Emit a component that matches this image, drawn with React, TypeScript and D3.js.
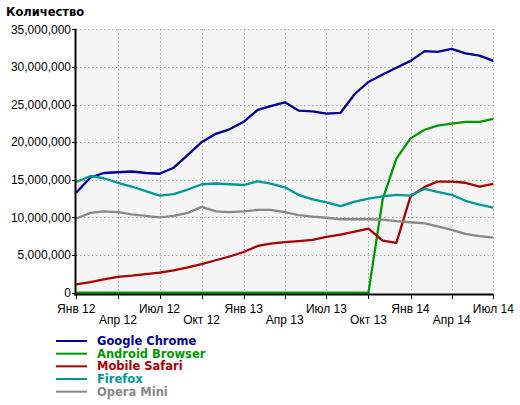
import React from "react";
import * as d3 from "d3";

const months: string[] = [
  "2012-01","2012-02","2012-03","2012-04","2012-05","2012-06","2012-07","2012-08","2012-09","2012-10","2012-11","2012-12",
  "2013-01","2013-02","2013-03","2013-04","2013-05","2013-06","2013-07","2013-08","2013-09","2013-10","2013-11","2013-12",
  "2014-01","2014-02","2014-03","2014-04","2014-05","2014-06","2014-07",
];

// values in millions
const chrome = [13.3,15.3,15.9,16.0,16.1,15.9,15.8,16.6,18.3,20.0,21.1,21.7,22.7,24.3,24.8,25.3,24.2,24.1,23.8,23.9,26.4,28.0,29.0,29.9,30.8,32.1,32.0,32.4,31.8,31.5,30.8];
const android = [0,0,0,0,0,0,0,0,0,0,0,0,0,0,0,0,0,0,0,0,0,0,12.4,17.8,20.5,21.65,22.2,22.45,22.7,22.7,23.1];
const safari = [1.1,1.4,1.75,2.1,2.25,2.45,2.65,2.95,3.35,3.8,4.3,4.8,5.4,6.2,6.5,6.7,6.85,7.0,7.4,7.7,8.1,8.5,6.9,6.6,12.8,14.05,14.75,14.75,14.6,14.1,14.45];
const firefox = [14.7,15.5,15.2,14.6,14.1,13.5,12.9,13.1,13.7,14.4,14.5,14.4,14.3,14.8,14.5,14.0,13.0,12.4,12.0,11.5,12.1,12.5,12.8,13.0,12.9,13.8,13.4,13.0,12.2,11.7,11.3];
const opera = [9.85,10.6,10.8,10.7,10.4,10.2,10.0,10.2,10.6,11.4,10.8,10.7,10.8,11.0,11.0,10.7,10.3,10.1,9.95,9.75,9.75,9.75,9.7,9.5,9.35,9.2,8.8,8.35,7.8,7.5,7.3];

const seriesNames = ["Google Chrome","Android Browser","Mobile Safari","Firefox","Opera Mini"];
const seriesColors = ["#000099","#009900","#aa0000","#009999","#888888"];
const seriesValues = [chrome, android, safari, firefox, opera];

const yTicks = [0,5,10,15,20,25,30,35];
const xTickDates = ["2012-01","2012-04","2012-07","2012-10","2013-01","2013-04","2013-07","2013-10","2014-01","2014-04","2014-07"];
const xTickLabels = ["Янв 12","Апр 12","Июл 12","Окт 12","Янв 13","Апр 13","Июл 13","Окт 13","Янв 14","Апр 14","Июл 14"];

const parse = (s: string) => { const [y, m] = s.split("-").map(Number); return new Date(y, m - 1, 1); };

export default function App() {
  const left = 76.3, right = 493.3, top = 29.3, bottom = 292.6;
  const x = d3.scaleTime().domain([parse("2012-01"), parse("2014-07")]).range([left, right]);
  const y = d3.scaleLinear().domain([0, 35]).range([bottom, top]);
  const fmt = d3.format(",");
  const dates = months.map(parse);
  const line = d3.line<number>().x((_, i) => x(dates[i])).y((d) => y(d)).curve(d3.curveLinear);
  const font = "'Liberation Sans', Arial, sans-serif";
  const bold = "'DejaVu Sans', Verdana, sans-serif";

  return (
    <svg width={520} height={405} style={{ position: "absolute", left: 0, top: 0, background: "#fff" }}>
      <text x={6} y={16} fontFamily={bold} fontWeight="bold" fontSize={11.5} fill="#000">Количество</text>
      <rect x={left} y={top} width={right - left} height={bottom - top + 1} fill="#f5f5f5" />
      {yTicks.map((t) => (
        <g key={"y" + t}>
          {t > 0 && <line x1={left} x2={right} y1={Math.round(y(t)) + 0.5} y2={Math.round(y(t)) + 0.5} stroke="#808080" strokeDasharray="1 3" />}
          <line x1={72} x2={left} y1={Math.round(y(t)) + 0.5} y2={Math.round(y(t)) + 0.5} stroke="#000" />
          <text x={71} y={y(t)} dy="0.35em" textAnchor="end" fontFamily={font} fontSize={12} fill="#000">{fmt(t * 1000000)}</text>
        </g>
      ))}
      {xTickDates.map((d, i) => {
        const px = Math.round(x(parse(d))) + 0.5;
        return (
          <g key={"x" + d}>
            {i > 0 && <line x1={px} x2={px} y1={top} y2={bottom} stroke="#808080" strokeDasharray="1 3" />}
            <line x1={px} x2={px} y1={295} y2={299} stroke="#000" />
            <text x={x(parse(d))} y={i % 2 === 0 ? 312.5 : 324} textAnchor="middle" fontFamily={font} fontSize={12} fill="#000">{xTickLabels[i]}</text>
          </g>
        );
      })}
      {seriesValues.map((vals, k) => (
        <path key={"s" + k} d={line(vals) || ""} fill="none" stroke={seriesColors[k]} strokeWidth={2.3} strokeLinejoin="round" />
      ))}
      <line x1={75.5} x2={75.5} y1={top - 0.5} y2={295.5} stroke="#000" strokeWidth={2} />
      <line x1={74.5} x2={right + 0.5} y1={294.5} y2={294.5} stroke="#000" strokeWidth={2} />
      {seriesNames.map((n, k) => {
        const ly = 341 + k * 12.67;
        return (
          <g key={"l" + k}>
            <line x1={56} x2={87} y1={ly} y2={ly} stroke={seriesColors[k]} strokeWidth={2} />
            <text x={97} y={ly} dy="0.36em" fontFamily={bold} fontWeight="bold" fontSize={11.5} fill={seriesColors[k]}>{n}</text>
          </g>
        );
      })}
    </svg>
  );
}
